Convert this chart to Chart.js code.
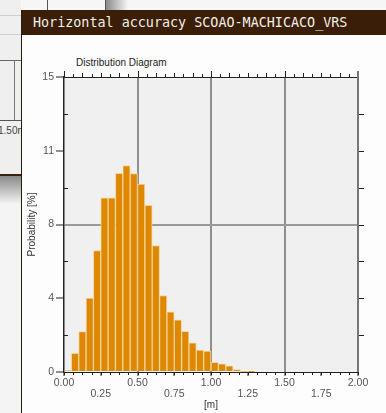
<!DOCTYPE html>
<html lang="en">

<head>
    <meta charset="UTF-8">
    <title>Horizontal accuracy SCOAO-MACHICACO_VRS</title>
    <script src="https://cdn.jsdelivr.net/npm/chart.js"></script>
    <style>
        body { margin: 0; width: 386px; height: 413px; overflow: hidden; position: relative; background: #f4f4f4; font-family: "Liberation Sans", Arial, sans-serif; }
        .back-left { position: absolute; left: 0; top: 0; width: 21px; height: 174px; background: #efefef; border-bottom: 2px solid #3a2210; }
        .back-left .h { position: absolute; left: 0; width: 21px; height: 1px; background: #cfcfcf; }
        .back-left .axis { position: absolute; left: 0; top: 120px; width: 21px; height: 1px; background: #555; }
        .back-left .v { position: absolute; left: 14px; top: 60px; width: 1px; height: 60px; background: #777; }
        .back-left .lbl { position: absolute; left: -2px; top: 125px; font-size: 10px; color: #444; white-space: nowrap; }
        .shadow { position: absolute; left: 0; top: 176px; width: 21px; height: 28px; background: linear-gradient(#8a8a8a, #f4f4f4); }
        .back-top { position: absolute; left: 21px; top: 0; width: 365px; height: 10px; background: #f6f6f6; }
        .back-top .v { position: absolute; top: 0; width: 1px; height: 10px; background: #555; }
        .back-top .sh { position: absolute; left: 85px; top: 0; width: 22px; height: 10px; background: linear-gradient(90deg, #8a8a8a, #f6f6f6); }
        .win { position: absolute; left: 21px; top: 10px; width: 365px; height: 403px; background: #fdfdfd; border-left: 1px solid #2a1808; }
        .bar { height: 25px; background: #3a1e08; color: #f4efe6; font: 13.4px "DejaVu Sans Mono", monospace; line-height: 26px; padding-left: 11px; white-space: nowrap; }
        .sub { position: absolute; left: 76px; top: 57px; font-size: 10px; color: #222; }
        #histChart { position: absolute; left: 22px; top: 35px; }
    </style>
</head>

<body>
    <div class="back-left">
        <div class="h" style="top:15px"></div>
        <div class="h" style="top:34px"></div>
        <div class="h" style="top:60px;background:#666"></div>
        <div class="v"></div>
        <div class="axis"></div>
        <div class="lbl">1.50m</div>
    </div>
    <div class="shadow"></div>
    <div class="back-top">
        <div class="v" style="left:26px"></div>
        <div class="v" style="left:84px"></div>
        <div class="sh"></div>
    </div>
    <div class="win">
        <div class="bar">Horizontal accuracy SCOAO-MACHICACO_VRS</div>
    </div>
    <div class="sub">Distribution Diagram</div>

    <canvas id="histChart" width="364" height="378"></canvas>

    <script>
        // bin centres [m], bin width 0.05
        const binCenters = [0.025, 0.075, 0.125, 0.175, 0.225, 0.275, 0.325, 0.375, 0.425, 0.475,
            0.525, 0.575, 0.625, 0.675, 0.725, 0.775, 0.825, 0.875, 0.925, 0.975,
            1.025, 1.075, 1.125, 1.175, 1.225, 1.275];
        // probability [%]
        const probability = [0.07, 0.95, 2.05, 3.76, 6.17, 8.86, 8.86, 10.1, 10.5, 10.09,
            9.56, 8.47, 6.43, 3.89, 3.06, 2.65, 2.07, 1.48, 1.12, 1.07,
            0.49, 0.42, 0.31, 0.12, 0.03, 0.02];
        const xTicks = [0, 0.25, 0.5, 0.75, 1, 1.25, 1.5, 1.75, 2];
        const yTicks = [0, 3.75, 7.5, 11.25, 15];

        const frame = {
            id: 'frame',
            beforeDraw(chart) {
                const { ctx, chartArea: a } = chart;
                ctx.save();
                ctx.fillStyle = '#f0f0f0';
                ctx.fillRect(a.left, a.top, a.right - a.left, a.bottom - a.top);
                ctx.restore();
            },
            afterDraw(chart) {
                const { ctx, chartArea: a, scales: { x, y } } = chart;
                ctx.save();
                ctx.lineWidth = 1;
                ctx.strokeStyle = '#222';
                ctx.beginPath();
                ctx.moveTo(a.left, a.top + 0.5);
                ctx.lineTo(a.right, a.top + 0.5);
                // minor ticks on top and bottom
                for (let k = 0; k <= 32; k++) {
                    const px = Math.round(x.getPixelForValue(k / 16)) + 0.5;
                    const len = k % 8 === 0 ? 6 : (k % 2 === 0 ? 4 : 3);
                    ctx.moveTo(px, a.top);
                    ctx.lineTo(px, a.top - len);
                    ctx.moveTo(px, a.bottom);
                    ctx.lineTo(px, a.bottom + 3);
                }
                // half-step ticks left (inside) and right (outside)
                for (let k = 1; k < 8; k++) {
                    const py = Math.round(y.getPixelForValue(k * 1.875)) + 0.5;
                    if (k % 2) {
                        ctx.moveTo(a.left, py);
                        ctx.lineTo(a.left + 4, py);
                    }
                    ctx.moveTo(a.right, py);
                    ctx.lineTo(a.right + 6, py);
                }
                ctx.stroke();
                ctx.strokeStyle = '#777';
                ctx.lineWidth = 2;
                ctx.beginPath();
                ctx.moveTo(a.right, a.top - 6);
                ctx.lineTo(a.right, a.bottom);
                ctx.stroke();
                ctx.restore();
            }
        };

        new Chart(document.getElementById('histChart'), {
            type: 'bar',
            data: {
                datasets: [{
                    data: binCenters.map((c, i) => ({ x: c, y: probability[i] })),
                    backgroundColor: '#dd8800',
                    borderColor: '#f7d39c',
                    borderWidth: 1,
                    borderSkipped: 'bottom',
                    barPercentage: 1,
                    categoryPercentage: 1
                }]
            },
            options: {
                responsive: false,
                animation: false,
                layout: { padding: { left: 0, top: 42, right: 28, bottom: 0 } },
                plugins: { legend: { display: false }, tooltip: { enabled: false } },
                scales: {
                    x: {
                        type: 'linear',
                        offset: false,
                        min: 0,
                        max: 2,
                        afterFit: s => { s.height = 41; },
                        afterBuildTicks: s => { s.ticks = xTicks.map(v => ({ value: v })); },
                        border: { color: '#222', width: 1 },
                        grid: {
                            offset: false,
                            color: c => (c.tick && [0.5, 1, 1.5].includes(c.tick.value)) ? '#8e8e8e' : 'rgba(0,0,0,0)',
                            lineWidth: 2,
                            tickColor: '#222',
                            tickWidth: 1,
                            tickLength: 4
                        },
                        ticks: {
                            autoSkip: false,
                            maxRotation: 0,
                            padding: 2,
                            color: '#555',
                            font: { family: 'Liberation Sans, Arial', size: 10.5, lineHeight: 1.05 },
                            callback: (v, i) => i % 2 ? ['', v.toFixed(2)] : v.toFixed(2)
                        },
                        title: {
                            display: true,
                            text: '[m]',
                            color: '#333',
                            padding: { top: 0, bottom: 2 },
                            font: { family: 'Liberation Sans, Arial', size: 10, lineHeight: 1.2 }
                        }
                    },
                    y: {
                        min: 0,
                        max: 15,
                        afterFit: s => { s.width = 42; },
                        afterBuildTicks: s => { s.ticks = yTicks.map(v => ({ value: v })); },
                        border: { color: '#222', width: 1.5 },
                        grid: {
                            offset: false,
                            color: c => (c.tick && c.tick.value === 7.5) ? '#9a9a9a' : 'rgba(0,0,0,0)',
                            lineWidth: 2,
                            tickColor: '#222',
                            tickWidth: 1,
                            tickLength: 8
                        },
                        ticks: {
                            padding: 2,
                            color: '#555',
                            font: { family: 'Liberation Sans, Arial', size: 10.5 },
                            callback: v => Math.round(v)
                        },
                        title: {
                            display: true,
                            text: 'Probability [%]',
                            color: '#333',
                            padding: { top: 4, bottom: 0 },
                            font: { family: 'Liberation Sans, Arial', size: 10, lineHeight: 1.2 }
                        }
                    }
                }
            },
            plugins: [frame]
        });
    </script>
</body>

</html>
